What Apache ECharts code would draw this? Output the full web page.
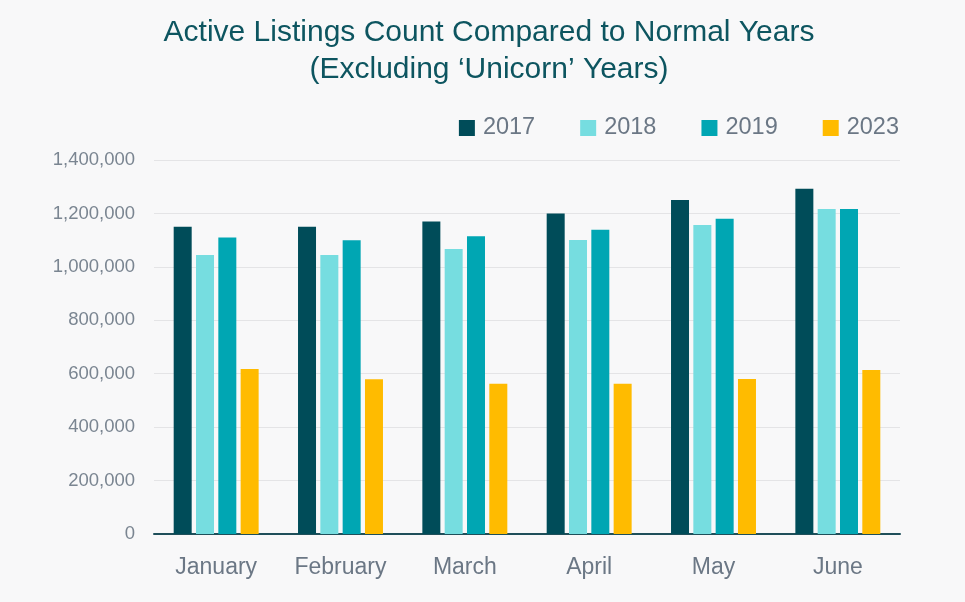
<!DOCTYPE html>
<html>
<head>
<meta charset="utf-8">
<script src="https://cdn.jsdelivr.net/npm/echarts@6/dist/echarts.min.js"></script>
<style>
html,body{margin:0;padding:0;background:#f8f8f9;}
#c{width:965px;height:602px;}
</style>
</head>
<body>
<div id="c"></div>
<script>
const months = ['January','February','March','April','May','June'];
const seriesNames = ['2017','2018','2019','2023'];
const v2017 = [1150000, 1150000, 1170000, 1200000, 1250000, 1292000];
const v2018 = [1044000, 1044000, 1067000, 1101000, 1157000, 1217000];
const v2019 = [1110000, 1100000, 1115000, 1139000, 1180000, 1217000];
const v2023 = [618000, 579000, 562000, 562000, 580000, 614000];
const yTicks = [0, 200000, 400000, 600000, 800000, 1000000, 1200000, 1400000];
const colors = ['#004c59', '#76dde0', '#00a6b3', '#ffbb00'];
const values = [v2017, v2018, v2019, v2023];

const chart = echarts.init(document.getElementById('c'));
chart.setOption({
  backgroundColor: '#f8f8f9',
  animation: false,
  textStyle: {fontFamily: 'Liberation Sans, Arial, sans-serif'},
  title: {
    text: 'Active Listings Count Compared to Normal Years\n(Excluding \u2018Unicorn\u2019 Years)',
    left: 484,
    top: 9,
    textAlign: 'center',
    textStyle: {color: '#0d5560', fontSize: 30, fontWeight: 'normal', lineHeight: 37, fontFamily: 'Liberation Sans, Arial, sans-serif'}
  },
  legend: {
    data: seriesNames,
    right: 61,
    top: 111,
    itemWidth: 16,
    itemHeight: 16,
    itemGap: 45,
    icon: 'rect',
    textStyle: {color: '#6b7785', fontSize: 23.5, padding: [0,0,0,3]}
  },
  grid: {left: 154, right: 65, top: 160, bottom: 68, containLabel: false},
  xAxis: {
    type: 'category',
    data: months,
    axisTick: {show: false},
    axisLine: {lineStyle: {color: '#1f4f5a', width: 2}},
    axisLabel: {color: '#6b7785', fontSize: 23, margin: 22}
  },
  yAxis: {
    type: 'value',
    min: yTicks[0],
    max: yTicks[yTicks.length - 1],
    interval: 200000,
    axisLine: {show: false},
    axisTick: {show: false},
    splitLine: {lineStyle: {color: '#e4e4e6', width: 1}},
    axisLabel: {
      color: '#7a8591', fontSize: 18.5, margin: 19,
      formatter: v => v.toLocaleString('en-US')
    }
  },
  series: seriesNames.map((n, i) => ({
    name: n,
    type: 'bar',
    data: values[i],
    barWidth: 18,
    barGap: '24%',
    itemStyle: {color: colors[i]}
  }))
});
</script>
</body>
</html>
